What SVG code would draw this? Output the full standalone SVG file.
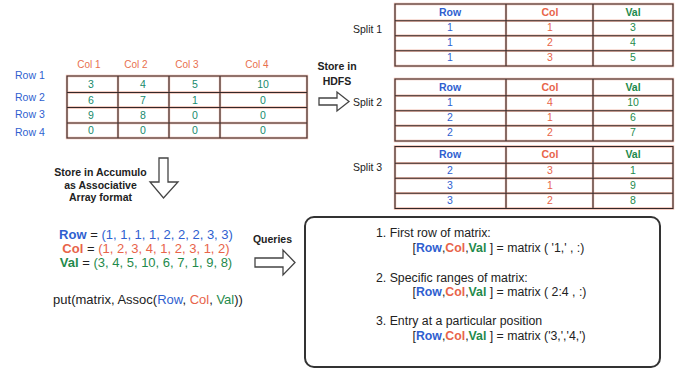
<svg xmlns="http://www.w3.org/2000/svg" width="690" height="371" viewBox="0 0 690 371">
<style>
text{font-family:"Liberation Sans",Arial,sans-serif;}
.glow{fill:none;stroke:#f0bcae;stroke-width:2.4;}
.ln{fill:none;stroke:#332828;stroke-width:1.1;}
.arrow{fill:#fff;stroke:#444;stroke-width:1.3;stroke-linejoin:miter;}
.b{fill:#2f5fd0;} .r{fill:#e8644a;} .g{fill:#1f8a4c;} .t{fill:#178a6c;}
.bold{font-weight:bold;}
.lbl{font-size:10.5px;fill:#222;}
.hdr{font-size:10px;fill:#e8704e;}
.rl{font-size:10.5px;fill:#2f5fd0;}
.cell{font-size:10.5px;text-anchor:middle;}
.big{font-size:13px;fill:#222;}
.q{font-size:12.3px;fill:#222;}
</style>
<defs>
<path id="mgrid" d="M67,76H307V138H67Z M67,92.5H307 M67,107.5H307 M67,123H307 M118,76V138 M169,76V138 M220,76V138"/>
<path id="sgrid" d="M395,0H673V62H395Z M395,16.7H673 M395,31.7H673 M395,46.7H673 M506,0V62 M593,0V62"/>
</defs>
<rect width="690" height="371" fill="#fff"/>

<g id="matrix">
<use href="#mgrid" class="glow"/>
<use href="#mgrid" class="ln"/>
<text class="hdr" x="89" y="68" text-anchor="middle">Col 1</text>
<text class="hdr" x="136" y="68" text-anchor="middle">Col 2</text>
<text class="hdr" x="187" y="68" text-anchor="middle">Col 3</text>
<text class="hdr" x="257" y="68" text-anchor="middle">Col 4</text>
<text class="rl" x="15" y="79">Row 1</text>
<text class="rl" x="15" y="101">Row 2</text>
<text class="rl" x="15" y="118">Row 3</text>
<text class="rl" x="15" y="136">Row 4</text>
<g class="cell t">
<text x="91" y="88">3</text><text x="143" y="88">4</text><text x="195" y="88">5</text><text x="263" y="88">10</text>
<text x="91" y="103.5">6</text><text x="143" y="103.5">7</text><text x="195" y="103.5">1</text><text x="263" y="103.5">0</text>
<text x="91" y="119">9</text><text x="143" y="119">8</text><text x="195" y="119">0</text><text x="263" y="119">0</text>
<text x="91" y="134">0</text><text x="143" y="134">0</text><text x="195" y="134">0</text><text x="263" y="134">0</text>
</g>
</g>

<g id="split1" transform="translate(0,4)">
<use href="#sgrid" class="glow"/>
<use href="#sgrid" class="ln"/>
<g class="cell bold"><text class="b" x="450" y="11.5">Row</text><text class="r" x="550" y="11.5">Col</text><text class="g" x="633" y="11.5">Val</text></g>
<g class="cell">
<text class="b" x="450" y="27">1</text><text class="r" x="550" y="27">1</text><text class="g" x="633" y="27">3</text>
<text class="b" x="450" y="42">1</text><text class="r" x="550" y="42">2</text><text class="g" x="633" y="42">4</text>
<text class="b" x="450" y="57">1</text><text class="r" x="550" y="57">3</text><text class="g" x="633" y="57">5</text>
</g>
</g>
<text class="lbl" x="353" y="33">Split 1</text>

<g id="split2" transform="translate(0,79)">
<use href="#sgrid" class="glow"/>
<use href="#sgrid" class="ln"/>
<g class="cell bold"><text class="b" x="450" y="11.5">Row</text><text class="r" x="550" y="11.5">Col</text><text class="g" x="633" y="11.5">Val</text></g>
<g class="cell">
<text class="b" x="450" y="27">1</text><text class="r" x="550" y="27">4</text><text class="g" x="633" y="27">10</text>
<text class="b" x="450" y="42">2</text><text class="r" x="550" y="42">1</text><text class="g" x="633" y="42">6</text>
<text class="b" x="450" y="57">2</text><text class="r" x="550" y="57">2</text><text class="g" x="633" y="57">7</text>
</g>
</g>
<text class="lbl" x="353" y="106">Split 2</text>

<g id="split3" transform="translate(0,146.5)">
<use href="#sgrid" class="glow"/>
<use href="#sgrid" class="ln"/>
<g class="cell bold"><text class="b" x="450" y="11.5">Row</text><text class="r" x="550" y="11.5">Col</text><text class="g" x="633" y="11.5">Val</text></g>
<g class="cell">
<text class="b" x="450" y="27">2</text><text class="r" x="550" y="27">3</text><text class="g" x="633" y="27">1</text>
<text class="b" x="450" y="42">3</text><text class="r" x="550" y="42">1</text><text class="g" x="633" y="42">9</text>
<text class="b" x="450" y="57">3</text><text class="r" x="550" y="57">2</text><text class="g" x="633" y="57">8</text>
</g>
</g>
<text class="lbl" x="353" y="171">Split 3</text>

<g id="connectors">
<polygon class="arrow" points="319,98 337,98 337,92 349,101.5 337,111 337,105 319,105"/>
<polygon class="arrow" points="159,158 168,158 168,182 178,182 163.5,198 150,182 159,182"/>
<polygon class="arrow" points="255,258 283,258 283,250 295,262.5 283,275 283,267 255,267"/>
</g>

<g id="hdfs-label">
<text class="lbl bold" x="337" y="70" text-anchor="middle">Store in</text>
<text class="lbl bold" x="337" y="85" text-anchor="middle">HDFS</text>
</g>

<g id="accumulo-label" class="lbl bold" text-anchor="middle">
<text x="100.5" y="176">Store in Accumulo</text>
<text x="100.5" y="188.5">as Associative</text>
<text x="100.5" y="201">Array format</text>
</g>

<g id="assoc" class="big" text-anchor="middle">
<text x="146" y="239"><tspan class="b bold">Row</tspan> = <tspan class="b">(1, 1, 1, 1, 2, 2, 2, 3, 3)</tspan></text>
<text x="146" y="253"><tspan class="r bold">Col</tspan> =  <tspan class="r">(1, 2, 3, 4, 1, 2, 3, 1, 2)</tspan></text>
<text x="146" y="267"><tspan class="g bold">Val</tspan> =  <tspan class="g">(3, 4, 5, 10, 6, 7, 1, 9, 8)</tspan></text>
<text x="148" y="304">put(matrix, Assoc(<tspan class="b">Row</tspan>, <tspan class="r">Col</tspan>, <tspan class="g">Val</tspan>))</text>
</g>

<text class="lbl bold" x="272.5" y="243" text-anchor="middle">Queries</text>

<g id="queries">
<rect x="305" y="217" width="355" height="150" rx="9" fill="#fff" stroke="#333" stroke-width="2"/>
<g class="q">
<text x="376" y="237">1. First row of matrix:</text>
<text x="412.5" y="252">[<tspan class="b bold">Row</tspan>,<tspan class="r bold">Col</tspan>,<tspan class="g bold">Val</tspan> ] = matrix ( '1,' , :)</text>
<text x="376" y="282">2. Specific ranges of matrix:</text>
<text x="412.5" y="296">[<tspan class="b bold">Row</tspan>,<tspan class="r bold">Col</tspan>,<tspan class="g bold">Val</tspan> ] = matrix ( 2:4 , :)</text>
<text x="376" y="325">3. Entry at a particular position</text>
<text x="412.5" y="340">[<tspan class="b bold">Row</tspan>,<tspan class="r bold">Col</tspan>,<tspan class="g bold">Val</tspan> ] = matrix ('3,','4,')</text>
</g>
</g>
</svg>
